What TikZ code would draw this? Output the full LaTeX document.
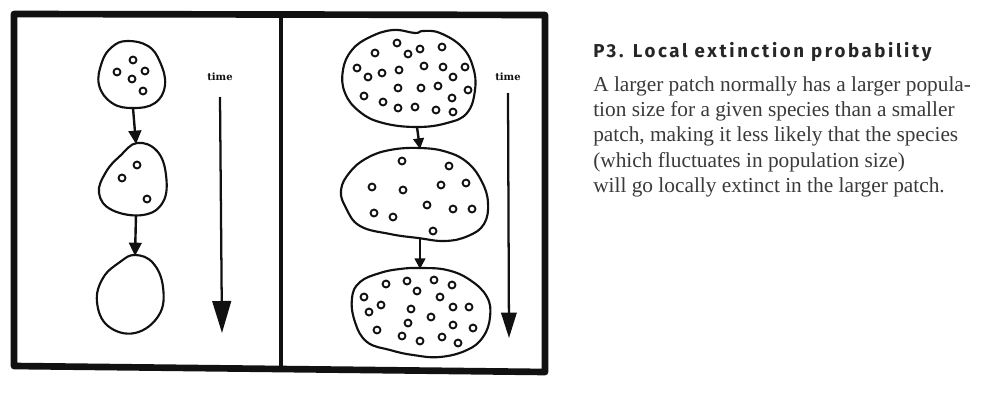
\documentclass[tikz,border=0pt]{standalone}
\usepackage{fontspec}
\setmainfont{Liberation Serif}
\newfontfamily\headfont[LetterSpace=14]{Fira Sans}
\newfontfamily\tagfont{DejaVu Serif}
\usetikzlibrary{arrows.meta}
\definecolor{ink}{HTML}{111111}
\definecolor{bodytext}{HTML}{3A3A3A}
\definecolor{headtext}{HTML}{262626}
\begin{document}
\begin{tikzpicture}[x=0.75pt,y=-0.75pt,
  border/.style={draw=ink,line width=5pt,line join=round},
  divider/.style={draw=ink,line width=2.3pt},
  blob/.style={draw=ink,line width=1.6pt},
  dot/.style={draw=ink,line width=1.4pt},
  flow/.style={draw=ink,line width=1.8pt,-{Triangle[length=10pt,width=9.5pt]}},
  flowsmall/.style={draw=ink,line width=1.8pt,-{Triangle[length=8pt,width=8pt]}},
  timeline/.style={draw=ink,line width=1.7pt},
  timeleft/.style={timeline,-{Triangle[length=24pt,width=14pt]}},
  timeright/.style={timeline,-{Triangle[length=19pt,width=11.5pt]}},
  timetag/.style={font=\tagfont\bfseries\fontsize{7.5}{9}\selectfont,text=ink,inner sep=0pt},
  bodyline/.style={anchor=base west,inner sep=0pt,text=bodytext,font=\fontsize{16}{18.75}\selectfont},
]
\useasboundingbox (0,0) rectangle (993,403);
\fill[white] (0,0) rectangle (993,403);

% ---------- frame with two panels ----------
\draw[border] (14,14) -- (545,15) -- (545,372) -- (14,366) -- cycle;
\coordinate (divtop) at (281,15);
\coordinate (divbot) at (281,369);
\draw[divider] (divtop) -- (divbot);

% ---------- small patch (left panel) ----------
\draw[blob] plot[smooth cycle,tension=0.7] coordinates
  {(127,41) (148,46) (160,62) (165,85) (155,103) (133,108) (112,103) (99,85) (102,62) (112,47)};
\draw[blob] plot[smooth cycle,tension=0.7] coordinates
  {(137,143) (157,151) (166,175) (163,202) (143,215) (112,210) (99,193) (106,172) (120,156)};
\draw[blob] plot[smooth cycle,tension=0.7] coordinates
  {(135,255) (153,263) (163,287) (159,315) (135,333) (108,326) (97,302) (103,278) (120,262)};

\foreach \p in {(133,60),(117,72),(132,79),(145,71),(143,91),
                (137,165),(122,178),(147,199)}
  \draw[dot] \p circle[radius=2.6pt];

\coordinate (L1s) at (133,108);
\coordinate (L2n) at (136,144);
\coordinate (L2s) at (136,215);
\coordinate (L3n) at (135,256);
\draw[flow] (L1s) -- (L2n);
\draw[flow] (L2s) -- (L3n);

\node[timetag] (tagL) at (220,77) {time};
\coordinate (tL0) at (220,97);
\coordinate (tL1) at (222,333);
\draw[timeleft] (tL0) -- (tL1);

% ---------- large patch (right panel) ----------
\draw[blob] plot[smooth cycle,tension=0.7] coordinates
  {(415,33) (423,31) (440,33) (462,47) (473,67) (475,90) (467,113) (447,123) (417,127)
   (383,123) (360,112) (345,93) (343,70) (352,50) (370,37) (393,30)};
\draw[blob] plot[smooth cycle,tension=0.7] coordinates
  {(420,148) (447,152) (468,163) (482,182) (488,203) (484,224) (468,236) (445,241)
   (418,238) (390,234) (360,226) (346,208) (341,190) (350,172) (367,158) (390,150)};
\draw[blob] plot[smooth cycle,tension=0.7] coordinates
  {(420,268) (447,270) (470,280) (487,297) (490,317) (483,337) (467,350) (440,357)
   (413,355) (390,350) (367,342) (355,322) (352,298) (360,282) (380,273) (400,269)};

\foreach \p in {(397,43),(375,53),(408,54),(420,49),(442,47),
                (357,68),(368,77),(382,73),(399,70),(424,66),(443,67),(465,67),(453,77),
                (398,88),(421,88),(438,86),(468,90),(452,98),(364,96),(383,102),
                (398,108),(415,107),(436,110),(453,112),
                (402,161),(449,166),(372,187),(403,190),(441,185),(466,183),
                (427,205),(453,209),(472,209),(374,213),(393,217),(433,231),
                (386,284),(407,281),(434,280),(452,285),(417,291),(364,297),(381,305),
                (440,297),(453,307),(469,307),(369,312),(411,309),(431,317),(408,323),
                (453,325),(473,328),(377,330),(402,336),(420,341),(442,337),(458,343)}
  \draw[dot] \p circle[radius=2.6pt];

\coordinate (R1s) at (417,127);
\coordinate (R2n) at (420,149);
\coordinate (R2s) at (420,238);
\coordinate (R3n) at (420,269);
\draw[flowsmall] (R1s) -- (R2n);
\draw[flowsmall] (R2s) -- (R3n);

\node[timetag] (tagR) at (508,77) {time};
\coordinate (tR0) at (508,93);
\coordinate (tR1) at (509,338);
\draw[timeright] (tR0) -- (tR1);

% ---------- caption ----------
\node[anchor=base west,inner sep=0pt,text=headtext,
      font=\headfont\bfseries\fontsize{14}{16}\selectfont] (title) at (593,58)
  {P3. Local extinction probability};
\node[bodyline] (line1) at (593,92)  {A larger patch normally has a larger popula-};
\node[bodyline] (line2) at (593,117) {tion size for a given species than a smaller};
\node[bodyline] (line3) at (593,142) {patch, making it less likely that the species};
\node[bodyline] (line4) at (593,167) {(which fluctuates in population size)};
\node[bodyline] (line5) at (593,192) {will go locally extinct in the larger patch.};
\end{tikzpicture}
\end{document}
